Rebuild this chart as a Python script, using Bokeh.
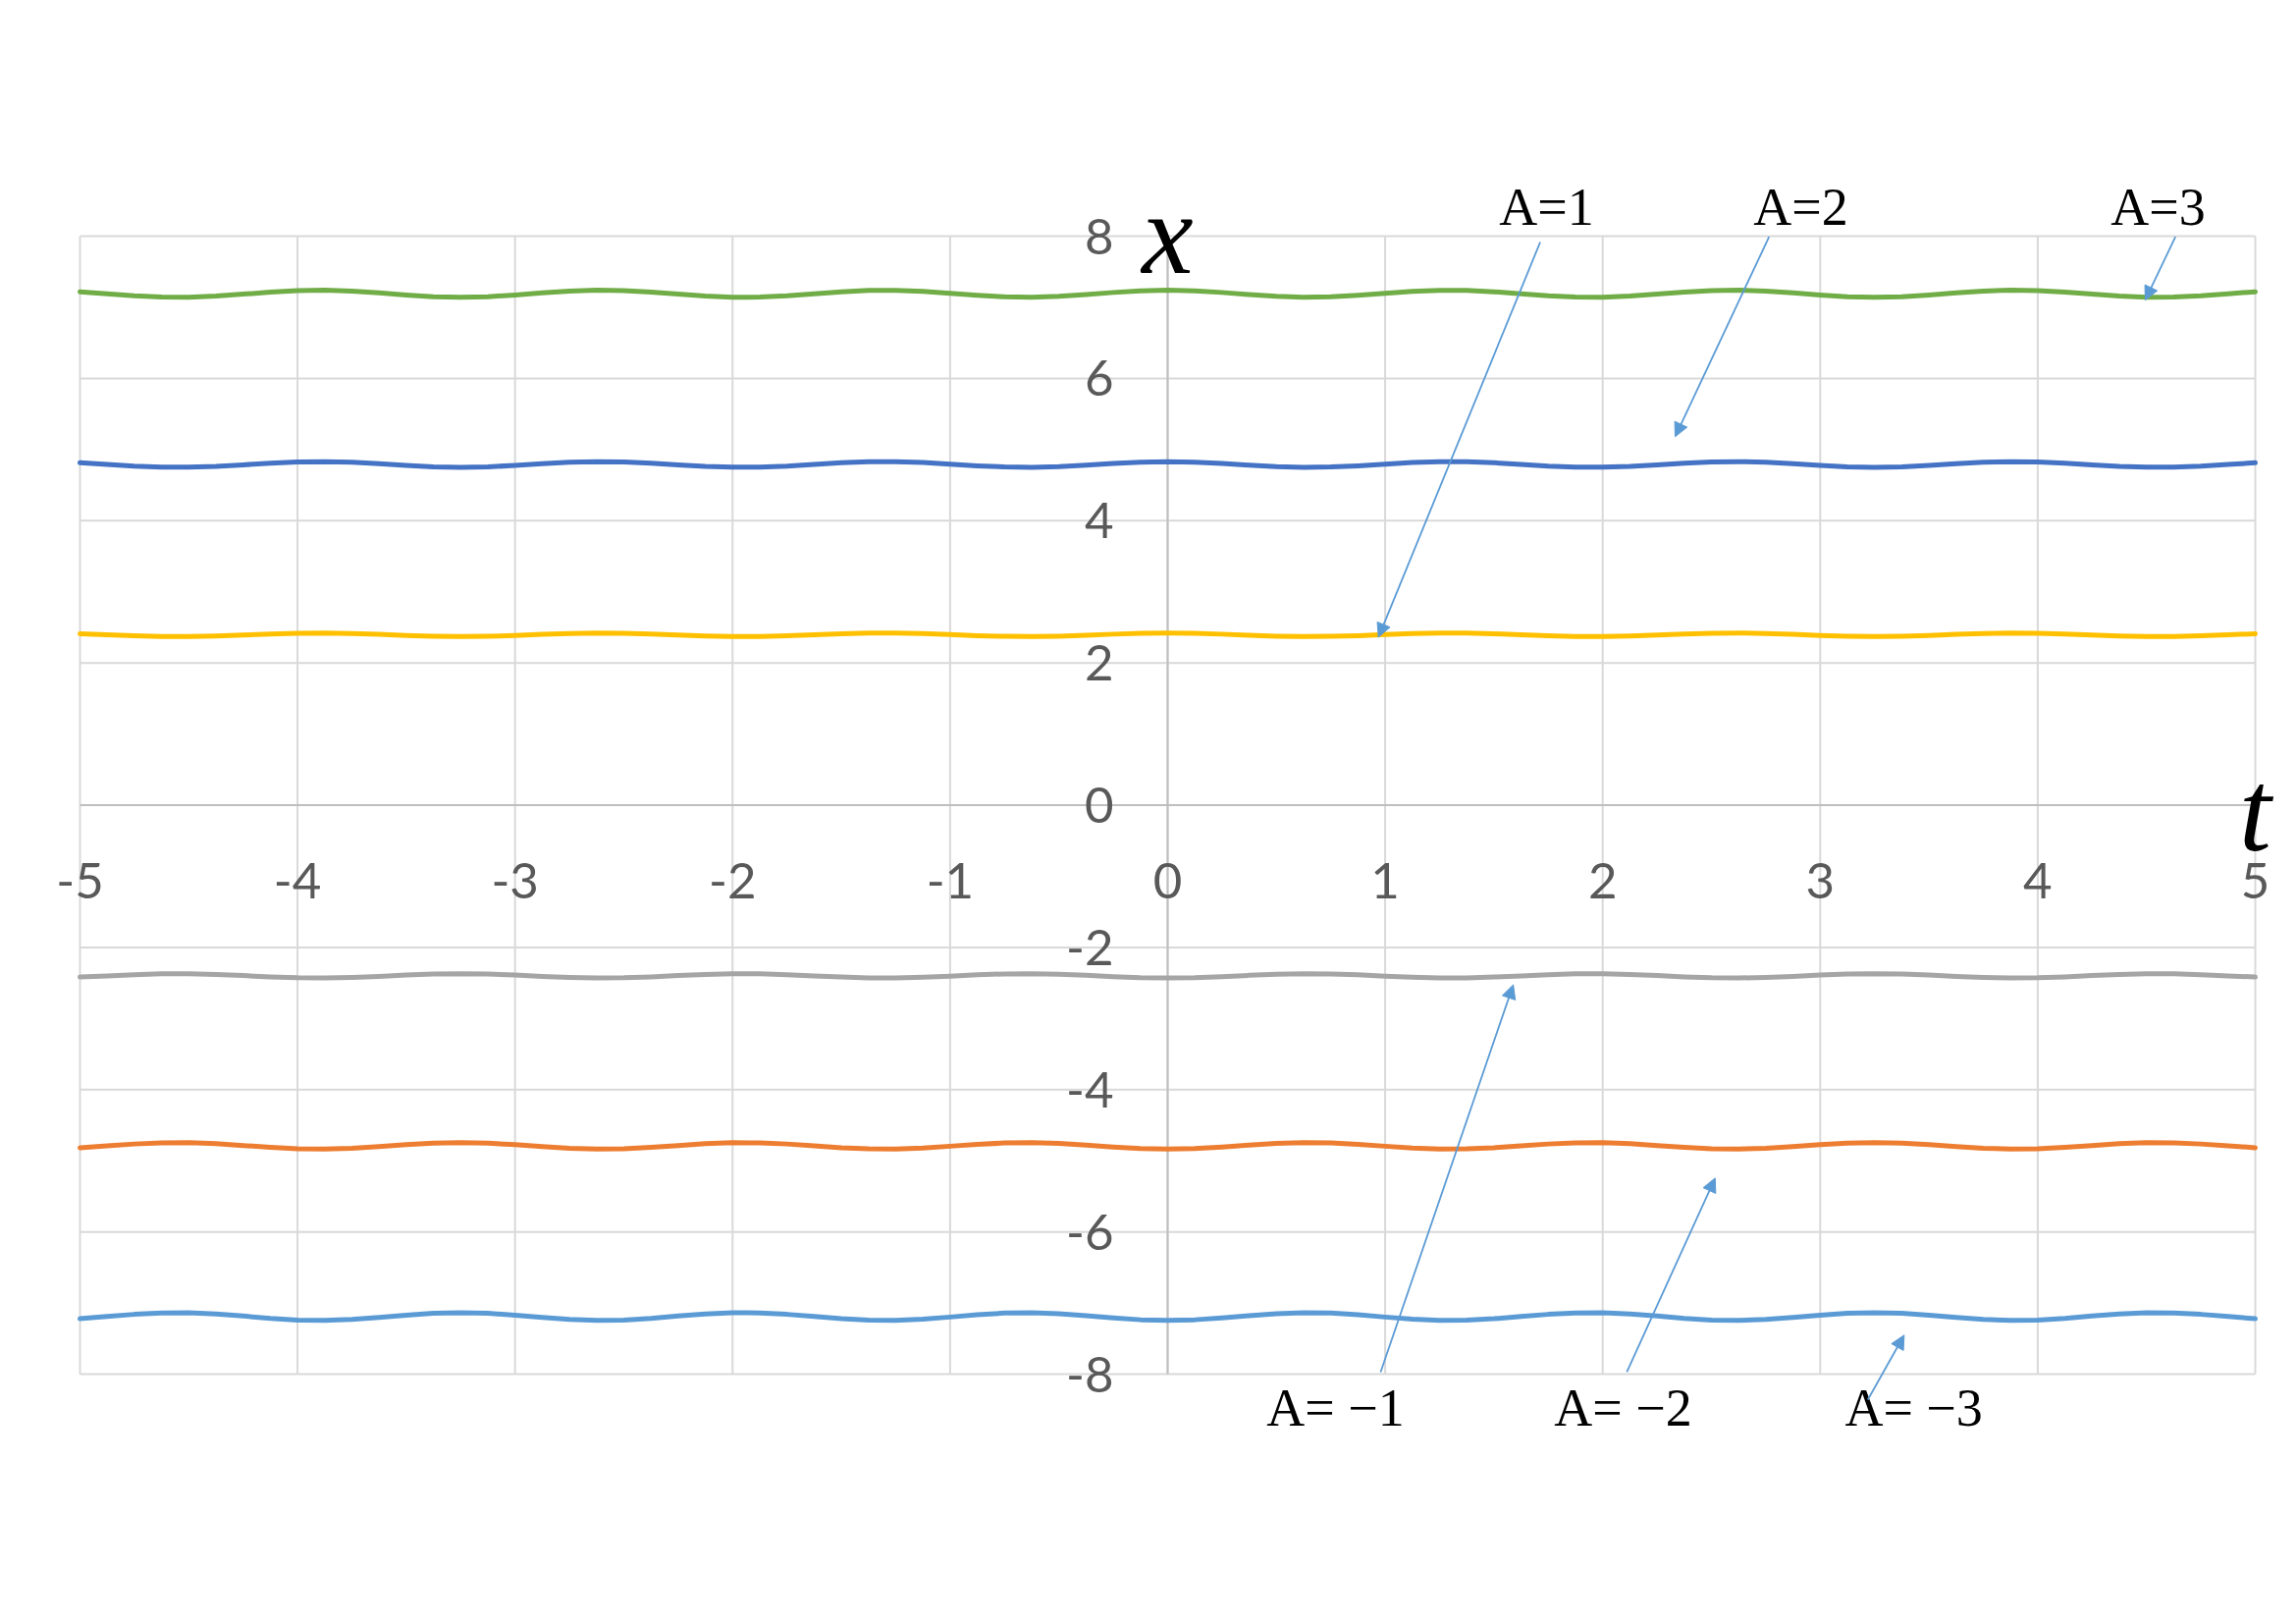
from bokeh.plotting import figure
from bokeh.models import Range1d, Label, LabelSet, ColumnDataSource, Arrow, NormalHead
from bokeh.core.properties import value
from bokeh.embed import file_html
from bokeh.resources import INLINE

# ---- data ----
# sample positions along t (every 0.125 from -5 to 5)
t = [i * 0.125 for i in range(-40, 41)]

x_A1 = [2.409, 2.395, 2.381, 2.372, 2.371, 2.378, 2.392, 2.407, 2.417, 2.420, 2.414, 2.401, 2.386, 2.374,
        2.370, 2.374, 2.386, 2.401, 2.414, 2.420, 2.417, 2.407, 2.392, 2.378, 2.371, 2.372, 2.381, 2.395,
        2.409, 2.418, 2.419, 2.412, 2.398, 2.383, 2.373, 2.370, 2.376, 2.389, 2.404, 2.416,
        2.420, 2.416, 2.404, 2.389, 2.376, 2.370, 2.373, 2.383, 2.398, 2.412, 2.419, 2.418, 2.409, 2.395,
        2.381, 2.372, 2.371, 2.378, 2.392, 2.407, 2.417, 2.420, 2.414, 2.401, 2.386, 2.374, 2.370, 2.374,
        2.386, 2.401, 2.414, 2.420, 2.417, 2.407, 2.392, 2.378, 2.371, 2.372, 2.381, 2.395, 2.409]
x_A2 = [4.813, 4.790, 4.767, 4.753, 4.751, 4.763, 4.785, 4.809, 4.825, 4.830, 4.820, 4.800, 4.776, 4.757,
        4.750, 4.757, 4.776, 4.800, 4.820, 4.830, 4.825, 4.809, 4.785, 4.763, 4.751, 4.753, 4.767, 4.790,
        4.813, 4.827, 4.829, 4.817, 4.795, 4.771, 4.755, 4.750, 4.760, 4.780, 4.804, 4.823,
        4.830, 4.823, 4.804, 4.780, 4.760, 4.750, 4.755, 4.771, 4.795, 4.817, 4.829, 4.827, 4.813, 4.790,
        4.767, 4.753, 4.751, 4.763, 4.785, 4.809, 4.825, 4.830, 4.820, 4.800, 4.776, 4.757, 4.750, 4.757,
        4.776, 4.800, 4.820, 4.830, 4.825, 4.809, 4.785, 4.763, 4.751, 4.753, 4.767, 4.790, 4.813]
x_A3 = [7.218, 7.190, 7.162, 7.143, 7.141, 7.157, 7.184, 7.213, 7.234, 7.240, 7.227, 7.202, 7.172, 7.149,
        7.140, 7.149, 7.172, 7.202, 7.227, 7.240, 7.234, 7.213, 7.184, 7.157, 7.141, 7.143, 7.162, 7.190,
        7.218, 7.237, 7.239, 7.223, 7.196, 7.167, 7.146, 7.140, 7.153, 7.178, 7.208, 7.231,
        7.240, 7.231, 7.208, 7.178, 7.153, 7.140, 7.146, 7.167, 7.196, 7.223, 7.239, 7.237, 7.218, 7.190,
        7.162, 7.143, 7.141, 7.157, 7.184, 7.213, 7.234, 7.240, 7.227, 7.202, 7.172, 7.149, 7.140, 7.149,
        7.172, 7.202, 7.227, 7.240, 7.234, 7.213, 7.184, 7.157, 7.141, 7.143, 7.162, 7.190, 7.218]
x_Am1 = [-2.417, -2.400, -2.383, -2.372, -2.371, -2.380, -2.396, -2.414, -2.427, -2.430, -2.422, -2.407,
         -2.389, -2.375, -2.370, -2.375, -2.389, -2.407, -2.422, -2.430, -2.427, -2.414, -2.396, -2.380,
         -2.371, -2.372, -2.383, -2.400, -2.417, -2.428, -2.429, -2.420, -2.404, -2.386, -2.373, -2.370,
         -2.378, -2.393, -2.411, -2.425,
         -2.430, -2.425, -2.411, -2.393, -2.378, -2.370, -2.373, -2.386, -2.404, -2.420, -2.429, -2.428,
         -2.417, -2.400, -2.383, -2.372, -2.371, -2.380, -2.396, -2.414, -2.427, -2.430, -2.422, -2.407,
         -2.389, -2.375, -2.370, -2.375, -2.389, -2.407, -2.422, -2.430, -2.427, -2.414, -2.396, -2.380,
         -2.371, -2.372, -2.383, -2.400, -2.417]
x_Am2 = [-4.816, -4.790, -4.764, -4.748, -4.746, -4.760, -4.785, -4.811, -4.830, -4.835, -4.824, -4.801,
         -4.774, -4.753, -4.745, -4.753, -4.774, -4.801, -4.824, -4.835, -4.830, -4.811, -4.785, -4.760,
         -4.746, -4.748, -4.764, -4.790, -4.816, -4.832, -4.834, -4.820, -4.795, -4.769, -4.750, -4.745,
         -4.756, -4.779, -4.806, -4.827,
         -4.835, -4.827, -4.806, -4.779, -4.756, -4.745, -4.750, -4.769, -4.795, -4.820, -4.834, -4.832,
         -4.816, -4.790, -4.764, -4.748, -4.746, -4.760, -4.785, -4.811, -4.830, -4.835, -4.824, -4.801,
         -4.774, -4.753, -4.745, -4.753, -4.774, -4.801, -4.824, -4.835, -4.830, -4.811, -4.785, -4.760,
         -4.746, -4.748, -4.764, -4.790, -4.816]
x_Am3 = [-7.221, -7.190, -7.159, -7.139, -7.137, -7.154, -7.183, -7.216, -7.239, -7.245, -7.231, -7.203,
         -7.170, -7.145, -7.135, -7.145, -7.170, -7.203, -7.231, -7.245, -7.239, -7.216, -7.183, -7.154,
         -7.137, -7.139, -7.159, -7.190, -7.221, -7.241, -7.243, -7.226, -7.197, -7.164, -7.141, -7.135,
         -7.149, -7.177, -7.210, -7.235,
         -7.245, -7.235, -7.210, -7.177, -7.149, -7.135, -7.141, -7.164, -7.197, -7.226, -7.243, -7.241,
         -7.221, -7.190, -7.159, -7.139, -7.137, -7.154, -7.183, -7.216, -7.239, -7.245, -7.231, -7.203,
         -7.170, -7.145, -7.135, -7.145, -7.170, -7.203, -7.231, -7.245, -7.239, -7.216, -7.183, -7.154,
         -7.137, -7.139, -7.159, -7.190, -7.221]

x_ticks = [-5, -4, -3, -2, -1, 0, 1, 2, 3, 4, 5]
x_tick_labels = ["-5", "-4", "-3", "-2", "-1", "0", "1", "2", "3", "4", "5"]
y_ticks = [8, 6, 4, 2, 0, -2, -4, -6, -8]
y_tick_labels = ["8", "6", "4", "2", "0", "-2", "-4", "-6", "-8"]

top_labels = ["A=1", "A=2", "A=3"]
bottom_labels = ["A= \u22121", "A= \u22122", "A= \u22123"]

T_MIN, T_MAX = -5, 5
X_MIN, X_MAX = -8, 8

# ---- figure: the frame fills the whole canvas; the chart box is drawn inside it ----
p = figure(width=2330, height=1640, x_range=Range1d(-5.3655, 5.1489), y_range=Range1d(-11.3263, 11.3131),
           x_axis_type=None, y_axis_type=None, output_backend="svg", toolbar_location=None,
           min_border=0, title=None)
p.outline_line_color = None
p.background_fill_color = "white"
p.border_fill_color = "white"

grid_col = "#D9D9D9"
# vertical and horizontal gridlines (including the box edges)
p.segment(x0=x_ticks, y0=[X_MIN] * len(x_ticks), x1=x_ticks, y1=[X_MAX] * len(x_ticks),
          line_color=grid_col, line_width=2)
p.segment(x0=[T_MIN] * len(y_ticks), y0=y_ticks, x1=[T_MAX] * len(y_ticks), y1=y_ticks,
          line_color=grid_col, line_width=2)
# axes crossing at the origin
p.segment(x0=[T_MIN, 0], y0=[0, X_MIN], x1=[T_MAX, 0], y1=[0, X_MAX], line_color="#BFBFBF", line_width=2)

series = [(x_A2, "#4472C4"), (x_Am2, "#ED7D31"), (x_Am1, "#A5A5A5"),
          (x_A1, "#FFC000"), (x_Am3, "#5B9BD5"), (x_A3, "#70AD47")]
for ys, c in series:
    p.line(t, ys, line_color=c, line_width=5, line_join="round", line_cap="round")

tick_font = value("Lato")
xs_src = ColumnDataSource(dict(x=x_ticks, y=[0] * len(x_ticks), text=x_tick_labels))
p.add_layout(LabelSet(x="x", y="y", text="text", source=xs_src, y_offset=-77,
                      text_align="center", text_baseline="middle", text_font=tick_font,
                      text_font_size="51px", text_color="#595959"))
ys_src = ColumnDataSource(dict(x=[0] * len(y_ticks), y=y_ticks, text=y_tick_labels))
p.add_layout(LabelSet(x="x", y="y", text="text", source=ys_src, x_offset=-55,
                      text_align="right", text_baseline="middle", text_font=tick_font,
                      text_font_size="51px", text_color="#595959"))

# axis names
p.add_layout(Label(x=0.0, y=8.03, text="x", text_align="center", text_baseline="middle",
                   text_font="Liberation Serif", text_font_style="italic", text_font_size="118px",
                   text_color="black"))
p.add_layout(Label(x=5.0, y=-0.09, text="t", text_align="center", text_baseline="middle",
                   text_font="Liberation Serif", text_font_style="italic", text_font_size="118px",
                   text_color="black"))

# annotations
ann_font = "Liberation Serif"
for txt, tx in zip(top_labels, [1.742, 2.911, 4.553]):
    p.add_layout(Label(x=tx, y=8.407, text=txt, text_align="center", text_baseline="middle",
                       text_font=ann_font, text_font_size="54px", text_color="black"))
for txt, tx in zip(bottom_labels, [0.772, 2.094, 3.430]):
    p.add_layout(Label(x=tx, y=-8.469, text=txt, text_align="center", text_baseline="middle",
                       text_font=ann_font, text_font_size="54px", text_color="black"))

ac = "#5B9BD5"
arrows = [((1.713, 7.917), (0.969, 2.36)),
          ((2.765, 7.99), (2.333, 5.18)),
          ((4.633, 7.99), (4.494, 7.10)),
          ((0.979, -7.972), (1.589, -2.525)),
          ((2.111, -7.97), (2.517, -5.243)),
          ((3.219, -8.358), (3.386, -7.451))]
for (xs0, ys0), (xe, ye) in arrows:
    p.add_layout(Arrow(end=NormalHead(size=14, fill_color=ac, line_color=ac, line_width=1),
                       x_start=xs0, y_start=ys0, x_end=xe, y_end=ye,
                       line_color=ac, line_width=1.8))

open("out.html", "w").write(file_html(p, INLINE))
